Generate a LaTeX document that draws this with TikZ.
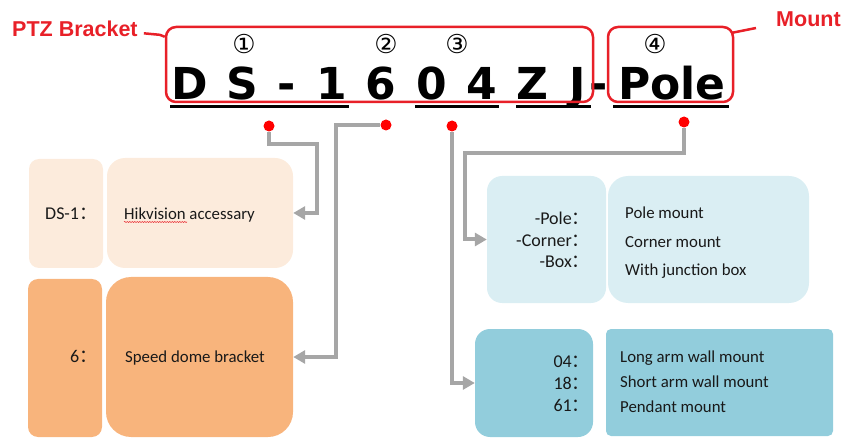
\documentclass[tikz,border=0pt]{standalone}
\usepackage{fontspec}
\setmainfont{Carlito}
\newfontfamily\dejavu{DejaVu Sans}
\newfontfamily\arialf{Liberation Sans}
\newfontfamily\cjk{Noto Sans CJK SC}
\usetikzlibrary{arrows.meta,calc,decorations.pathmorphing}
\definecolor{redc}{RGB}{232,32,40}
\definecolor{dotred}{RGB}{255,0,0}
\definecolor{conngray}{RGB}{166,166,166}
\definecolor{peachL}{RGB}{252,235,220}
\definecolor{peachD}{RGB}{248,180,124}
\definecolor{blueL}{RGB}{218,238,243}
\definecolor{blueD}{RGB}{146,205,220}
\newcommand{\fcolon}{{\cjk ：}}
\begin{document}
\begin{tikzpicture}[x=1pt,y=-1pt,
  box/.style={inner sep=0pt, draw=none},
  redbox/.style={draw=redc, line width=2.5pt, rounded corners=10pt, inner sep=0pt},
  redlead/.style={draw=redc, line width=2.5pt},
  redlabel/.style={text=redc, font=\arialf\bfseries\fontsize{21.5}{24}\selectfont, inner sep=0pt, anchor=base west},
  bigc/.style={font=\dejavu\bfseries\fontsize{44}{48}\selectfont, inner sep=0pt, anchor=base},
  circn/.style={font=\dejavu\fontsize{26}{28}\selectfont, inner sep=0pt},
  uline/.style={line width=3pt},
  rdot/.style={circle, fill=dotred, minimum size=11pt, inner sep=0pt},
  conn/.style={draw=conngray, line width=4pt, -{Triangle[length=12pt,width=13pt]}},
  txt/.style={font=\fontsize{16.8}{18}\selectfont, inner sep=0pt, text=black!90},
  lbl/.style={font=\fontsize{18}{20}\selectfont, inner sep=0pt, text=black!90},
]
\useasboundingbox (0,0) rectangle (843,438);

% boxes
\node[box, fill=peachL, rounded corners=10pt, minimum width=74pt, minimum height=109pt] (ds1L) at (66,213.5) {};
\node[box, fill=peachL, rounded corners=18pt, minimum width=186pt, minimum height=110pt] (hik) at (200,213) {};
\node[box, fill=peachD, rounded corners=10pt, minimum width=74pt, minimum height=158pt] (sixL) at (65,358) {};
\node[box, fill=peachD, rounded corners=25pt, minimum width=187pt, minimum height=160pt] (speed) at (199.5,357) {};
\node[box, fill=blueL, rounded corners=15pt, minimum width=119pt, minimum height=127pt] (poleL) at (546.5,239.5) {};
\node[box, fill=blueL, rounded corners=20pt, minimum width=201pt, minimum height=127pt] (poleR) at (708.5,239.5) {};
\node[box, fill=blueD, rounded corners=15pt, minimum width=118pt, minimum height=108pt] (numL) at (534,383) {};
\node[box, fill=blueD, rounded corners=5pt, minimum width=227pt, minimum height=107pt] (numR) at (719.5,382.5) {};

% box texts
\node[lbl, anchor=mid west] (t1) at (45,217.5) {DS-1\fcolon};
\node[txt, anchor=mid west] (t2) at (124,217.5) {Hikvision accessary};
\draw[redc, line width=0.5pt, decorate, decoration={snake, amplitude=0.6pt, segment length=2.5pt}] (124,222) -- (187,222);
\node[lbl, anchor=mid west] (t3) at (70,360.5) {6\fcolon};
\node[txt, anchor=mid west] (t4) at (125,360.5) {Speed dome bracket};
\node[lbl, anchor=mid east] (t5) at (590,222) {-Pole\fcolon};
\node[lbl, anchor=mid east] (t6) at (590,244) {-Corner\fcolon};
\node[lbl, anchor=mid east] (t7) at (590,265) {-Box\fcolon};
\node[txt, anchor=mid west] (t8) at (625,216) {Pole mount};
\node[txt, anchor=mid west] (t9) at (625,245) {Corner mount};
\node[txt, anchor=mid west] (t10) at (625,273) {With junction box};
\node[lbl, anchor=mid east] (t11) at (590,365) {04\fcolon};
\node[lbl, anchor=mid east] (t12) at (590,387) {18\fcolon};
\node[lbl, anchor=mid east] (t13) at (590,409) {61\fcolon};
\node[txt, anchor=mid west] (t14) at (620,360.5) {Long arm wall mount};
\node[txt, anchor=mid west] (t15) at (620,385.5) {Short arm wall mount};
\node[txt, anchor=mid west] (t16) at (620,410.5) {Pendant mount};

% big code
\node[bigc] (cD) at (190,100) {D};
\node[bigc] (cS) at (242,100) {S};
\node[bigc] (cH1) at (287,100) {-};
\node[bigc] (c1) at (332,100) {1};
\node[bigc] (c6) at (381,100) {6};
\node[bigc] (c0) at (432,100) {0};
\node[bigc] (c4) at (482,100) {4};
\node[bigc] (cZ) at (532,100) {Z};
\node[bigc] (cJ) at (578,100) {J};
\node[bigc] (cH2) at (599,100) {-};
\node[bigc] (cPole) at (672,100) {Pole};

\draw[uline] (170,107) -- (349,107);
\draw[uline] (415,107) -- (499,107);
\draw[uline] (516,107) -- (591,107);
\draw[uline] (613,107) -- (729,107);

% circled numbers
\node[circn] (n1) at (244,44) {①};
\node[circn] (n2) at (386,44) {②};
\node[circn] (n3) at (457,44) {③};
\node[circn] (n4) at (655,44) {④};

% red frames and labels
\node[redbox, minimum width=427pt, minimum height=75pt] (b1) at (379.5,64.5) {};
\node[redbox, minimum width=125pt, minimum height=75pt] (b2) at (670.5,64.5) {};
\node[redlabel] (ptz) at (12,37) {PTZ Bracket};
\node[redlabel] (mount) at (776,27) {Mount};
\coordinate (mlead) at (756,28);
\draw[redlead] ([xshift=6pt,yshift=-4pt]ptz.east) -- ([xshift=-5pt,yshift=-5.5pt]ptz.east -| b1.west) -- ([yshift=-11pt]b1.north west);
\draw[redlead] ([xshift=-2pt,yshift=-7pt]b2.north east) -- (mlead);

% dots
\node[rdot] (d1) at (269,126) {};
\node[rdot] (d2) at (386,125) {};
\node[rdot] (d3) at (452,126) {};
\node[rdot] (d4) at (684,122) {};

% connectors
\draw[conn] (d1) |- (317,144) |- (hik.east);
\draw[conn] (d2) -| ($(speed.east)+(43,0)$) -- (speed.east);
\draw[conn] (d3) |- (numL.west);
\draw[conn] (d4) |- (465,153) |- (poleL.west);
\end{tikzpicture}
\end{document}
